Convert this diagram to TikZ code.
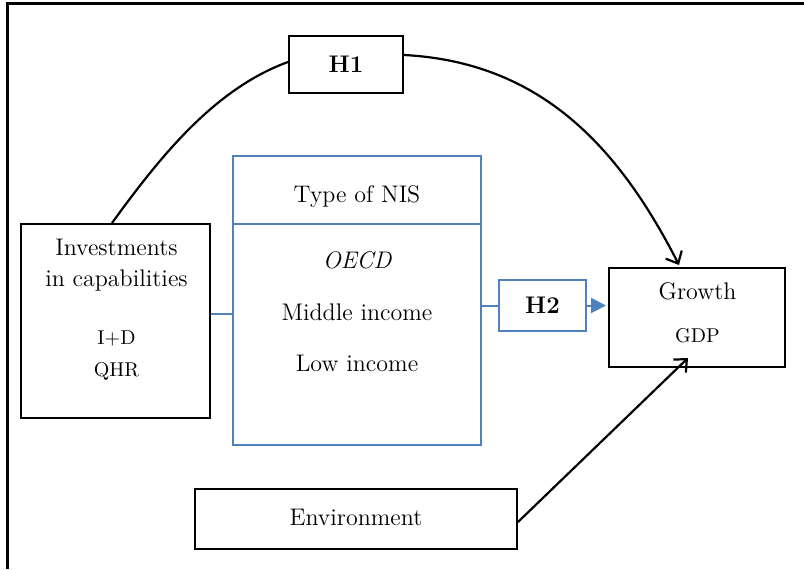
\documentclass[tikz,border=0pt]{standalone}
\usetikzlibrary{arrows.meta}
\definecolor{nisblue}{RGB}{79,129,189}
\begin{document}
\begin{tikzpicture}[x=0.5pt,y=0.5pt,
    box/.style={draw=black, line width=1pt, inner sep=0pt},
    bluebox/.style={draw=nisblue, line width=1pt, inner sep=0pt},
    txt/.style={font=\fontsize{12}{14}\selectfont, inner sep=0pt, text height=8.5pt, text depth=2.5pt},
    smalltxt/.style={font=\fontsize{10}{12}\selectfont, inner sep=0pt},
    hyp/.style={font=\fontsize{12}{14}\selectfont\bfseries},
    link/.style={line width=1.1pt},
    effect/.style={line width=1.1pt, -{Straight Barb[length=5pt,width=9pt]}},
    nisline/.style={draw=nisblue, line width=1pt}]
    \useasboundingbox (0,0) rectangle (804,569);

    % Outer frame, only top and left edges show
    \draw[line width=1.5pt] (7,0) -- (7,565) -- (804,565);

    % Boxes
    \node[box, minimum width=57pt, minimum height=28.5pt] (h1) at (346,504.5) {};
    \node[box, minimum width=94.5pt, minimum height=97pt] (inv) at (115.5,248) {};
    \node[bluebox, minimum width=124pt, minimum height=144.5pt] (nis) at (357,268.5) {};
    \node[bluebox, minimum width=43.5pt, minimum height=25.5pt] (h2) at (542.5,263.5) {};
    \node[box, minimum width=88pt, minimum height=49.5pt] (growth) at (697,251.5) {};
    \node[box, minimum width=161pt, minimum height=30pt] (env) at (356,50) {};

    % Header line of the NIS box
    \draw[nisline] ([yshift=-34.5pt]nis.north west) -- ([yshift=-34.5pt]nis.north east);

    % Texts
    \node[hyp] (h1txt) at (h1) {H1};
    \node[hyp] (h2txt) at (h2) {H2};
    \node[txt] (invA) at (116.5,320) {Investments};
    \node[txt] (invB) at (116.5,289) {in capabilities};
    \node[smalltxt] (rd) at (116.5,231) {I+D};
    \node[smalltxt] (qhr) at (116.5,198) {QHR};
    \node[txt] (nistitle) at (357,372) {Type of NIS};
    \node[txt] (oecd) at (357,306) {\itshape OECD};
    \node[txt] (mid) at (357,255) {Middle income};
    \node[txt] (low) at (357,204) {Low income};
    \node[txt] (growthtxt) at (697.5,276) {Growth};
    \node[smalltxt] (gdp) at (697.5,233) {GDP};
    \node[txt] (envtxt) at (env) {Environment};

    % Arrow ends inside/above Growth
    \coordinate (h1tip) at (679,304);
    \coordinate (envtip) at (688,211);

    % H1 path
    \draw[link] ([xshift=-1.75pt]inv.north) to[out=54,in=200,looseness=0.85] ([yshift=1.25pt]h1.west);
    \draw[effect] ([yshift=4.75pt]h1.east) to[out=-3,in=117] (h1tip);

    % H2 path through the type of NIS
    \draw[nisline] (inv.east |- mid) -- (nis.west |- mid);
    \draw[nisline] (nis.east |- h2) -- (h2.west);
    \draw[nisline, -{Triangle[length=7.5pt,width=7.5pt]}, shorten >=1pt] (h2.east) -- (growth.west |- h2);

    % Environment
    \draw[effect] ([yshift=-1.5pt]env.east) -- (envtip);
\end{tikzpicture}
\end{document}
